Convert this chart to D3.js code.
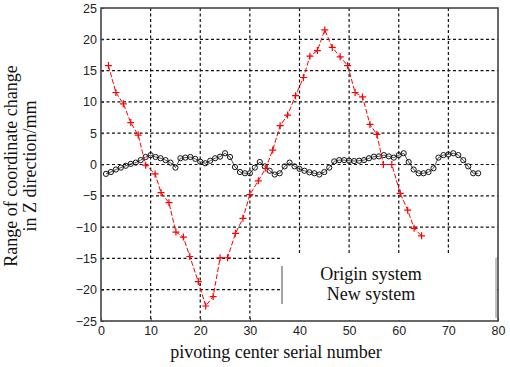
<!DOCTYPE html>
<html>
<head>
<meta charset="utf-8">
<script src="https://cdn.jsdelivr.net/npm/d3@7"></script>
<style>
  body { margin: 0; background: #fff; }
  svg { display: block; }
</style>
</head>
<body>
<svg id="chart"></svg>
<script>
// red series (+ markers)
const originX = [1.5, 3, 4.5, 6, 7.5, 9, 10.9, 12.1, 13.7, 15.1, 16.6, 17.9, 19.6, 21.1, 22.6, 24, 25.5, 27.1, 28.6, 30, 31.7, 33.2, 34.6, 36.1, 37.6, 39.2, 40.8, 42.1, 43.6, 45.1, 46.6, 48.2, 49.7, 51.2, 52.7, 54.2, 55.6, 56.9, 58.6, 60.3, 61.8, 63.1, 64.6];
const originY = [15.8, 11.5, 9.7, 6.7, 4.7, -0.1, -1.5, -4.5, -6.1, -10.8, -11.6, -14.7, -18.7, -22.6, -21.1, -14.9, -14.9, -11, -8.6, -4.8, -2.6, -0.6, 2.3, 6.2, 7.9, 11, 13.9, 17.3, 18.2, 21.5, 18.7, 17.2, 15.8, 11.5, 10.8, 6.4, 4.8, 0.0, 0.0, -4.6, -7.3, -10.2, -11.4];

// black series (circles), one per serial number 1..76
const newY = [-1.5, -1.2, -0.8, -0.5, -0.2, 0.1, 0.3, 0.7, 1.2, 1.5,
              1.2, 1.0, 0.7, 0.3, -0.5, 1.0, 1.1, 1.2, 0.9, 0.45,
              0.2, 0.6, 1.0, 1.25, 1.8, 1.2, -0.4, -1.2, -1.4, -1.4,
              -0.5, 0.4, -0.3, -1.0, -1.6, -1.4, -0.3, 0.3, -0.3, -0.7,
              -1.0, -1.25, -1.4, -1.6, -1.2, -0.5, 0.5, 0.7, 0.7, 0.6,
              0.55, 0.6, 0.7, 1.0, 1.25, 1.3, 1.5, 1.3, 1.1, 1.5,
              1.8, 0.4, -0.8, -1.4, -1.4, -1.2, -0.6, 1.1, 1.5, 1.6,
              1.8, 1.5, 0.7, -0.3, -1.4, -1.4];

const xTicks = [0, 10, 20, 30, 40, 50, 60, 70, 80];
const yTicks = [-25, -20, -15, -10, -5, 0, 5, 10, 15, 20, 25];
const legendLabels = ['Origin system', 'New system'];

const width = 510, height = 367;
const margin = {left: 101, right: 12, top: 8, bottom: 46};
const serif = 'Liberation Serif, Times New Roman, serif';

const svg = d3.select('#chart')
  .attr('width', width)
  .attr('height', height);

const x = d3.scaleLinear().domain([0, 80]).range([margin.left, width - margin.right]);
const y = d3.scaleLinear().domain([-25, 25]).range([height - margin.bottom, margin.top]);

// grid
svg.append('g')
  .selectAll('line')
  .data(xTicks.slice(1, -1))
  .enter().append('line')
  .attr('x1', d => x(d)).attr('x2', d => x(d))
  .attr('y1', y(25)).attr('y2', y(-25))
  .attr('stroke', '#111')
  .attr('stroke-width', 1.2)
  .attr('stroke-dasharray', '3,2.5');

svg.append('g')
  .selectAll('line')
  .data(yTicks.slice(1, -1))
  .enter().append('line')
  .attr('x1', x(0)).attr('x2', x(80))
  .attr('y1', d => y(d)).attr('y2', d => y(d))
  .attr('stroke', '#111')
  .attr('stroke-width', 1.2)
  .attr('stroke-dasharray', '3,2.5');

// axes
const xAxis = svg.append('g')
  .attr('transform', `translate(0,${y(-25)})`)
  .call(d3.axisBottom(x).tickValues(xTicks).tickSize(-3).tickPadding(5));
const yAxis = svg.append('g')
  .attr('transform', `translate(${x(0)},0)`)
  .call(d3.axisLeft(y).tickValues(yTicks).tickSize(-3).tickPadding(4));

[xAxis, yAxis].forEach(g => {
  g.select('.domain').remove();
  g.selectAll('.tick line').attr('stroke', '#333');
  g.selectAll('text')
    .attr('font-family', 'Liberation Sans, Arial, sans-serif')
    .attr('font-size', 12.5)
    .attr('fill', '#222');
});

// lines
const newLine = d3.line().x((d, i) => x(i + 1)).y(d => y(d));
svg.append('path')
  .attr('d', newLine(newY))
  .attr('fill', 'none')
  .attr('stroke', '#222')
  .attr('stroke-width', 0.8);

svg.append('g')
  .selectAll('circle')
  .data(newY)
  .enter().append('circle')
  .attr('cx', (d, i) => x(i + 1))
  .attr('cy', d => y(d))
  .attr('r', 2.6)
  .attr('fill', 'none')
  .attr('stroke', '#111')
  .attr('stroke-width', 1);

const originLine = d3.line().x((d, i) => x(originX[i])).y(d => y(d));
svg.append('path')
  .attr('d', originLine(originY))
  .attr('fill', 'none')
  .attr('stroke', '#f00')
  .attr('stroke-width', 1)
  .attr('stroke-dasharray', '5,2');

svg.append('g')
  .selectAll('path')
  .data(originY)
  .enter().append('path')
  .attr('transform', (d, i) => `translate(${x(originX[i])},${y(d)})`)
  .attr('d', 'M-3.5,0H3.5M0,-3.5V3.5')
  .attr('stroke', '#f00')
  .attr('stroke-width', 1.2);

// legend box
svg.append('rect')
  .attr('x', 281).attr('y', 253)
  .attr('width', 216).attr('height', 67)
  .attr('fill', '#fff');
svg.append('line')
  .attr('x1', 282).attr('x2', 282).attr('y1', 266).attr('y2', 304)
  .attr('stroke', '#666').attr('stroke-width', 1.2);
svg.append('line')
  .attr('x1', 496).attr('x2', 496).attr('y1', 258).attr('y2', 318)
  .attr('stroke', '#888').attr('stroke-width', 1);

svg.append('g')
  .selectAll('text')
  .data(legendLabels)
  .enter().append('text')
  .attr('x', 371)
  .attr('y', (d, i) => 280 + i * 20)
  .attr('text-anchor', 'middle')
  .attr('font-family', serif)
  .attr('font-size', 18)
  .attr('fill', '#111')
  .text(d => d);

// frame
svg.append('rect')
  .attr('x', x(0)).attr('y', y(25))
  .attr('width', x(80) - x(0)).attr('height', y(-25) - y(25))
  .attr('fill', 'none')
  .attr('stroke', '#444')
  .attr('stroke-width', 1.6);

// titles
svg.append('text')
  .attr('x', 276).attr('y', 358)
  .attr('text-anchor', 'middle')
  .attr('font-family', serif)
  .attr('font-size', 18)
  .attr('fill', '#111')
  .text('pivoting center serial number');

const yTitle = svg.append('text')
  .attr('transform', 'translate(17,166) rotate(-90)')
  .attr('text-anchor', 'middle')
  .attr('font-family', serif)
  .attr('font-size', 18)
  .attr('fill', '#111');
yTitle.append('tspan').attr('x', 0).attr('dy', 0).text('Range of coordinate change');
yTitle.append('tspan').attr('x', 0).attr('dy', 19).text('in Z direction/mm');
</script>
</body>
</html>
